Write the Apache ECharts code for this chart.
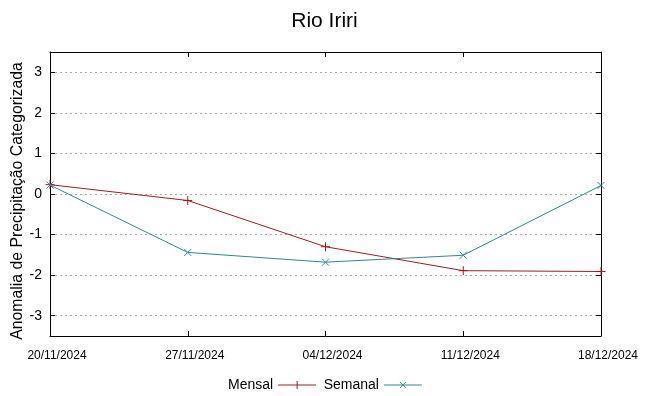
<!DOCTYPE html>
<html><head><meta charset="utf-8">
<script src="https://cdn.jsdelivr.net/npm/echarts@6/dist/echarts.min.js"></script>
<style>html,body{margin:0;padding:0;background:#fff}#c{width:649px;height:396px}</style>
</head><body><div id="c"></div>
<script>
var dates = ['20/11/2024','27/11/2024','04/12/2024','11/12/2024','18/12/2024'];
var mensal = [0.23, -0.16, -1.30, -1.89, -1.91];
var semanal = [0.22, -1.44, -1.68, -1.51, 0.21];
var yTicks = [-3,-2,-1,0,1,2,3];
var yName = 'Anomalia de Precipitação Categorizada';
var cM = '#a31a1e', cS = '#2f8a8a';
var plus = 'path://M0,5L10,5M5,0L5,10';
var cross = 'path://M0,0L10,10M0,10L10,0';
var font = 'Liberation Sans, Arial, sans-serif';
var chart = echarts.init(document.getElementById('c'));
chart.setOption({
  animation:false,
  textStyle:{fontFamily:font},
  title:{text:'Rio Iriri',left:'center',top:6,textStyle:{fontSize:21,fontWeight:'normal',color:'#000',fontFamily:font}},
  grid:{left:50,right:48,top:52,bottom:60,outerBoundsMode:'none',containLabel:false},
  graphic:[{type:'text',x:18,y:201,rotation:Math.PI/2,
    style:{text:yName,fontSize:15.8,fontFamily:font,fill:'#000',align:'center',verticalAlign:'middle'}}],
  legend:{left:223,top:373,align:'right',itemGap:5,itemWidth:38,itemHeight:10,
    textStyle:{fontSize:14,color:'#000',fontFamily:font},
    data:[{name:'Mensal',icon:'path://M0,5L38,5M19,1L19,9',itemStyle:{color:'none',borderColor:cM,borderWidth:1}},
          {name:'Semanal',icon:'path://M0,5L38,5M16,2L22,8M16,8L22,2',itemStyle:{color:'none',borderColor:cS,borderWidth:1}}]},
  xAxis:[{type:'category',data:dates,boundaryGap:false,position:'bottom',
    axisLine:{onZero:false,lineStyle:{color:'#000',width:1}},
    axisTick:{inside:true,length:5,lineStyle:{color:'#000'}},
    axisLabel:{fontSize:12,color:'#000',margin:14,padding:[0,0,0,14],fontFamily:font},splitLine:{show:false}},
    {type:'category',data:dates,boundaryGap:false,position:'top',
    axisLine:{onZero:false,lineStyle:{color:'#000',width:1}},
    axisTick:{inside:true,length:5,lineStyle:{color:'#000'}},
    axisLabel:{show:false},splitLine:{show:false}}],
  yAxis:[{type:'value',min:-3.5,max:3.5,position:'left',
    axisLine:{show:true,lineStyle:{color:'#000',width:1}},
    axisTick:{show:true,inside:true,length:5,customValues:yTicks,lineStyle:{color:'#000'}},
    axisLabel:{fontSize:14,color:'#000',margin:8,customValues:yTicks,fontFamily:font},
    splitLine:{show:true,lineStyle:{color:'#aaaaaa',type:[2,3],width:1}}},
    {type:'value',min:-3.5,max:3.5,position:'right',
    axisLine:{show:true,lineStyle:{color:'#000',width:1}},
    axisTick:{show:true,inside:true,length:5,customValues:yTicks,lineStyle:{color:'#000'}},
    axisLabel:{show:false},splitLine:{show:false}}],
  series:[
    {name:'Mensal',type:'line',data:mensal,symbol:plus,symbolSize:9,showAllSymbol:true,
      lineStyle:{color:cM,width:1},itemStyle:{color:cM,borderColor:cM,borderWidth:1}},
    {name:'Semanal',type:'line',data:semanal,symbol:cross,symbolSize:7,showAllSymbol:true,
      lineStyle:{color:cS,width:1},itemStyle:{color:cS,borderColor:cS,borderWidth:1}}
  ]
});
</script></body></html>
